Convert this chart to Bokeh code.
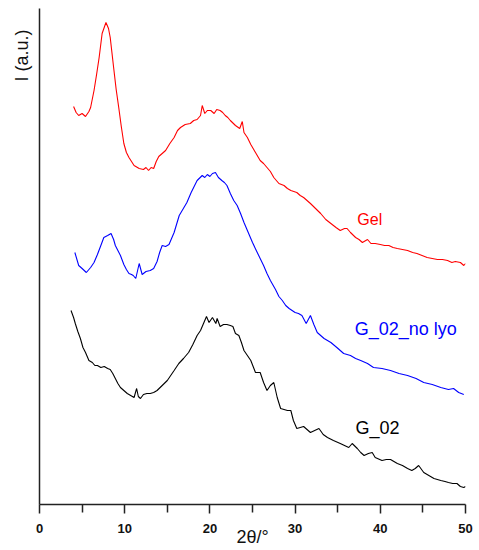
from bokeh.plotting import figure
from bokeh.models import Label, FixedTicker, Title
from bokeh.embed import file_html
from bokeh.resources import INLINE

# 2theta (deg) and intensity (a.u.)
gel_x = [4.0, 4.3, 4.6, 5.0, 5.4, 5.8, 6.0, 6.4, 6.7, 7.0, 7.35, 7.8, 8.1, 8.3, 8.7, 9.0,
         9.3, 9.6, 9.9, 10.2, 10.5, 11.1, 11.7, 12.2, 12.5, 12.8, 13.1, 13.4, 13.7, 14.0,
         14.4, 14.8, 15.3, 15.8, 16.2, 16.55, 17.1, 17.7, 18.1, 18.5, 18.9, 19.1, 19.4,
         19.7, 20.1, 20.5, 20.8, 21.2, 21.5, 21.8, 22.1, 22.4, 23.0, 23.5, 23.8, 24.0,
         24.4, 24.8, 25.35, 25.9, 26.3, 26.7, 27.1, 27.5, 28.1, 28.7, 29.1, 29.5, 30.2,
         30.6, 31.0, 31.4, 31.8, 32.4, 33.0, 33.6, 34.2, 34.8, 35.3, 35.8, 36.1, 36.5,
         37.1, 37.5, 37.9, 38.5, 38.9, 39.4, 40.0, 40.5, 41.0, 41.5, 42.0, 42.6, 43.2,
         43.8, 44.3, 44.9, 45.5, 46.1, 46.7, 47.3, 47.9, 48.4, 48.8, 49.4, 49.8, 50.0]
gel_y = [398, 392, 389, 391, 388, 393, 397, 414, 430, 447, 471, 482, 476, 467, 437, 415,
         397, 378, 361, 352, 347, 339, 336, 335, 337, 334, 337, 336, 343, 348,
         351, 354, 361, 367, 374, 377, 380, 381, 384, 385, 389, 399, 391,
         394, 394, 391, 395, 394, 392, 389, 387, 384, 379, 376, 383, 372,
         367, 360, 352, 344, 341, 337, 333, 327, 321, 319, 316, 314, 312,
         309, 307, 304, 301, 296, 291, 285, 281, 277, 274, 276, 276, 272,
         267, 265, 262, 265, 261, 261, 260, 259, 259, 257, 256, 255, 254,
         252, 251, 249, 247, 246, 245, 245, 244, 242, 243, 242, 239, 241]

nolyo_x = [4.15, 4.6, 5.0, 5.5, 6.0, 6.4, 6.8, 7.2, 7.55, 8.0, 8.4, 8.7, 8.9, 9.2, 9.5,
           9.9, 10.2, 10.5, 10.8, 11.0, 11.3, 11.7, 12.05, 12.5, 13.0, 13.4, 13.8, 14.1,
           14.4, 14.8, 15.2, 15.8, 16.4, 17.3, 17.8, 18.5, 19.1, 19.4, 19.7, 20.0, 20.3,
           20.65, 21.0, 21.4, 21.7, 22.0, 22.4, 22.8, 23.2, 23.6, 24.0, 24.4, 25.0, 25.5,
           25.9, 26.3, 26.7, 27.1, 27.7, 28.1, 28.5, 28.9, 29.3, 30.0, 30.4, 30.8, 31.3,
           31.8, 32.2, 32.6, 33.0, 33.4, 34.2, 34.9, 35.7, 36.5, 37.1, 37.7, 38.5, 39.2,
           40.2, 41.2, 42.2, 43.2, 44.2, 45.1, 46.1, 47.1, 48.0, 48.6, 49.2, 49.8]
nolyo_y = [252, 239, 236, 232, 237, 242, 250, 259, 267, 269, 271, 265, 259, 254, 249,
           240, 235, 231, 230, 229, 226, 241, 230, 233, 234, 236, 243, 252,
           259, 258, 260, 272, 289, 302, 312, 324, 329, 327, 330, 328, 331,
           332, 327, 324, 322, 319, 311, 304, 299, 291, 282, 274, 262, 253,
           246, 239, 231, 224, 215, 208, 204, 199, 196, 192, 191, 189, 181,
           189, 180, 172, 169, 166, 162, 157, 151, 149, 146, 144, 141, 137,
           136, 134, 131, 129, 126, 122, 120, 117, 115, 116, 112, 110]

g02_x = [3.7, 4.0, 4.2, 4.5, 4.8, 5.1, 5.4, 5.8, 6.2, 6.5, 6.8, 7.2, 7.6, 8.0, 8.3, 8.6,
         8.9, 9.2, 9.5, 9.9, 10.3, 10.7, 11.1, 11.4, 11.6, 11.85, 12.2, 12.6, 13.0, 13.4,
         13.8, 14.4, 15.0, 15.4, 15.8, 16.35, 16.9, 17.5, 18.0, 18.5, 18.9, 19.2, 19.6,
         19.9, 20.3, 20.7, 20.85, 21.2, 21.6, 22.0, 22.4, 22.7, 23.0, 23.4, 23.7, 24.0,
         24.4, 24.8, 25.35, 25.9, 26.3, 26.7, 27.1, 27.5, 27.9, 28.3, 28.7, 29.1, 29.5,
         29.8, 30.2, 30.6, 31.0, 31.4, 31.8, 32.3, 32.8, 33.3, 33.8, 34.5, 35.3, 35.8,
         36.3, 36.7, 37.3, 37.7, 38.1, 38.6, 39.05, 39.4, 40.2, 40.7, 41.2, 41.6, 42.0,
         42.6, 43.2, 43.7, 44.1, 44.5, 45.1, 45.7, 46.3, 47.1, 47.6, 48.0, 48.5, 49.0,
         49.4, 49.8, 50.0]
g02_y = [194, 187, 181, 173, 166, 157, 152, 144, 142, 139, 139, 137, 138, 136, 135, 131,
         126, 121, 117, 114, 111, 109, 107, 116, 108, 106, 110, 111, 111, 112,
         114, 119, 124, 129, 134, 141, 146, 152, 160, 169, 174, 180, 188,
         182, 187, 181, 186, 178, 180, 180, 179, 178, 171, 169, 162, 154,
         149, 144, 132, 132, 122, 114, 119, 122, 107, 96, 95, 94, 94,
         84, 76, 77, 78, 75, 72, 74, 76, 70, 67, 64, 61, 59,
         57, 61, 56, 52, 49, 51, 52, 47, 44, 45, 45, 43, 41,
         39, 36, 34, 36, 39, 32, 29, 26, 24, 23, 22, 21, 21,
         18, 17, 18]

x_ticks = [0, 10, 20, 30, 40, 50]
x_minor = [5, 15, 25, 35, 45]

p = figure(frame_width=426, frame_height=496, x_range=(0, 50), y_range=(0, 496),
           output_backend="svg", toolbar_location=None,
           min_border_left=39, min_border_right=10, min_border_top=8, min_border_bottom=0)
p.outline_line_color = None
p.xgrid.visible = False
p.ygrid.visible = False
p.background_fill_color = "white"

p.line(gel_x, gel_y, line_color="#ff0000", line_width=1.1)
p.line(nolyo_x, nolyo_y, line_color="#0000ff", line_width=1.1)
p.line(g02_x, g02_y, line_color="#000000", line_width=1.1)

xa = p.xaxis[0]
xa.ticker = FixedTicker(ticks=x_ticks, minor_ticks=x_minor)
xa.axis_line_width = 1.5
xa.axis_line_color = "#222222"
xa.major_tick_out = 9
xa.major_tick_in = 0
xa.minor_tick_out = 8
xa.minor_tick_in = 0
xa.major_tick_line_width = 1.5
xa.minor_tick_line_width = 1.5
xa.major_tick_line_color = "#222222"
xa.minor_tick_line_color = "#222222"
xa.major_label_standoff = 10
xa.major_label_text_font = "Liberation Sans"
xa.major_label_text_font_style = "bold"
xa.major_label_text_font_size = "13px"
xa.major_label_text_color = "#111111"
xa.axis_label = "2θ/°"
xa.axis_label_text_font = "Liberation Sans"
xa.axis_label_text_font_style = "normal"
xa.axis_label_text_font_size = "18px"
xa.axis_label_text_color = "#111111"
xa.axis_label_standoff = -9

ya = p.yaxis[0]
ya.ticker = FixedTicker(ticks=[])
ya.axis_line_width = 1.5
ya.axis_line_color = "#222222"
ya.major_tick_line_color = None
ya.minor_tick_line_color = None
ya.major_label_text_font_size = "0px"

ytitle = Title(text="I (a.u.)", align="right", offset=21, standoff=16,
               text_font="Liberation Sans", text_font_style="normal",
               text_font_size="18px", text_color="#111111")
p.add_layout(ytitle, "left")

txt = dict(text_font="Liberation Sans")
p.add_layout(Label(x=37.3, y=277, text="Gel", text_color="#ff0000",
                   text_font_size="16px", **txt))
p.add_layout(Label(x=37.0, y=166, text="G_02_no lyo", text_color="#0000ff",
                   text_font_size="18px", **txt))
p.add_layout(Label(x=37.1, y=67, text="G_02", text_color="#000000",
                   text_font_size="18px", **txt))

open("out.html", "w").write(file_html(p, INLINE))
